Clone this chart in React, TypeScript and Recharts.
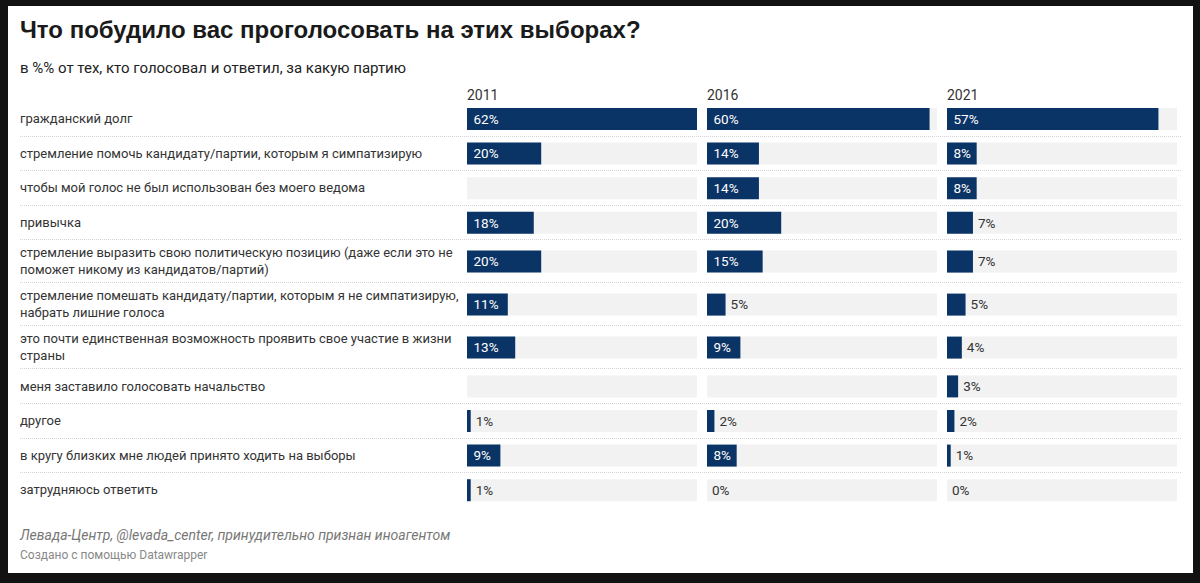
import { BarChart, Bar, XAxis, YAxis, LabelList } from "recharts";

const title = "Что побудило вас проголосовать на этих выборах?";
const subtitle = "в %% от тех, кто голосовал и ответил, за какую партию";
const source = "Левада-Центр, @levada_center, принудительно признан иноагентом";
const credit = "Создано с помощью Datawrapper";

const years = ["2011", "2016", "2021"];

const categories = [
  "гражданский долг",
  "стремление помочь кандидату/партии, которым я симпатизирую",
  "чтобы мой голос не был использован без моего ведома",
  "привычка",
  "стремление выразить свою политическую позицию (даже если это не\nпоможет никому из кандидатов/партий)",
  "стремление помешать кандидату/партии, которым я не симпатизирую,\nнабрать лишние голоса",
  "это почти единственная возможность проявить свое участие в жизни\nстраны",
  "меня заставило голосовать начальство",
  "другое",
  "в кругу близких мне людей принято ходить на выборы",
  "затрудняюсь ответить",
];

const values2011 = [62, 20, null, 18, 20, 11, 13, null, 1, 9, 1];
const values2016 = [60, 14, 14, 20, 15, 5, 9, null, 2, 8, 0];
const values2021 = [57, 8, 8, 7, 7, 5, 4, 3, 2, 1, 0];

const BAR = "#0b3466";
const TRACK = "#f2f2f2";
const TEXT = "#333";

// layout: two-line labels get taller rows
const rowHeights = categories.map((c) => (c.includes("\n") ? 43 : 34.6));
const rowTops: number[] = [];
rowHeights.reduce((acc, h) => {
  rowTops.push(acc);
  return acc + h;
}, 0);
const totalH = rowHeights.reduce((a, b) => a + b, 0);

const rows = categories.map((c, i) => ({
  label: c,
  center: rowTops[i] + rowHeights[i] / 2,
  "2011": values2011[i],
  "2016": values2016[i],
  "2021": values2021[i],
}));

const maxValue = Math.max(
  ...[...values2011, ...values2016, ...values2021].map((v) => v ?? 0)
);

const CHART_TOP = 101.5;
const COL_X = [467, 707, 947];
const COL_W = 230;

// labels hang off the gray track so 0% rows still get one
const makeLabel = (year: string) => (props: any) => {
  const { x, y, width, height, index } = props;
  const v = (rows[index] as any)[year];
  if (v == null) return null;
  const barW = (width * v) / maxValue;
  const inside = barW >= 28;
  return (
    <text
      x={inside ? x + 6.5 : x + barW + 5}
      y={y + height / 2}
      dy="0.36em"
      fill={inside ? "#fff" : TEXT}
      fontSize={13.5}
      fontFamily="Roboto, sans-serif"
    >
      {v}%
    </text>
  );
};

const YearChart = ({ year }: { year: string }) => (
  <BarChart
    layout="vertical"
    width={COL_W}
    height={totalH}
    data={rows}
    barGap={-22}
    margin={{ top: 0, right: 0, bottom: 0, left: 0 }}
  >
    <XAxis type="number" domain={[0, maxValue]} allowDataOverflow hide />
    <YAxis
      type="number"
      dataKey="center"
      domain={[0, totalH]}
      allowDataOverflow
      hide
    />
    <Bar
      dataKey={() => maxValue}
      fill={TRACK}
      barSize={22}
      isAnimationActive={false}
    >
      <LabelList content={makeLabel(year)} />
    </Bar>
    <Bar dataKey={year} fill={BAR} barSize={22} isAnimationActive={false} />
  </BarChart>
);

export default function App() {
  return (
    <div
      style={{
        position: "absolute",
        left: 0,
        top: 0,
        width: 1200,
        height: 583,
        background: "#121212",
        fontFamily: "Roboto, sans-serif",
        color: TEXT,
        overflow: "hidden",
      }}
    >
      <div
        style={{
          position: "absolute",
          left: 8,
          top: 6,
          width: 1185,
          height: 567,
          background: "#fff",
        }}
      />
      <div
        style={{
          position: "absolute",
          left: 20,
          top: 16.5,
          fontFamily: "'Liberation Sans', Arial, sans-serif",
          fontWeight: 700,
          fontSize: 24,
          lineHeight: "26px",
          color: "#1a1a1a",
          whiteSpace: "nowrap",
        }}
      >
        {title}
      </div>
      <div
        style={{
          position: "absolute",
          left: 20,
          top: 58,
          fontSize: 15,
          lineHeight: "20px",
          color: "#222",
          whiteSpace: "nowrap",
        }}
      >
        {subtitle}
      </div>
      {years.map((y, i) => (
        <div
          key={y}
          style={{
            position: "absolute",
            left: COL_X[i],
            top: 86,
            fontSize: 14,
            lineHeight: "18px",
            color: TEXT,
          }}
        >
          {y}
        </div>
      ))}
      {rowTops.slice(1).map((t, i) => (
        <div
          key={"sep" + i}
          style={{
            position: "absolute",
            left: 20,
            width: 1161,
            top: CHART_TOP + t - 0.5,
            height: 0,
            borderTop: "1px dotted #d4d4d4",
          }}
        />
      ))}
      {rows.map((r, i) => (
        <div
          key={"lab" + i}
          style={{
            position: "absolute",
            left: 20,
            top: CHART_TOP + rowTops[i],
            height: rowHeights[i],
            display: "flex",
            alignItems: "center",
            whiteSpace: "pre",
            fontSize: 13,
            lineHeight: "17px",
            color: TEXT,
          }}
        >
          {r.label}
        </div>
      ))}
      {years.map((y, i) => (
        <div
          key={"chart" + y}
          style={{ position: "absolute", left: COL_X[i], top: CHART_TOP }}
        >
          <YearChart year={y} />
        </div>
      ))}
      <div
        style={{
          position: "absolute",
          left: 20,
          top: 526,
          fontSize: 14,
          lineHeight: "18px",
          fontStyle: "italic",
          color: "#777",
          whiteSpace: "nowrap",
        }}
      >
        {source}
      </div>
      <div
        style={{
          position: "absolute",
          left: 20,
          top: 547,
          fontSize: 12,
          lineHeight: "16px",
          color: "#888",
          whiteSpace: "nowrap",
        }}
      >
        {credit}
      </div>
    </div>
  );
}
